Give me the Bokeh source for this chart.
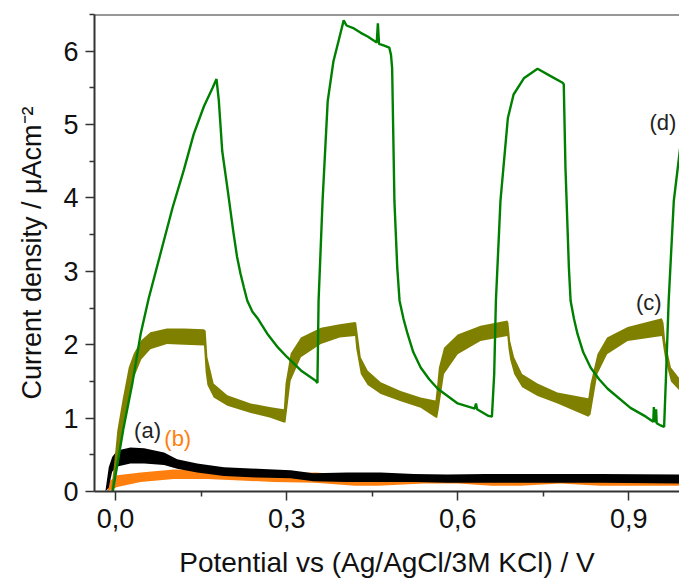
from bokeh.plotting import figure
from bokeh.models import (FixedTicker, Span, Label, Range1d, CustomJSTickFormatter)
from bokeh.embed import file_html
from bokeh.resources import INLINE

# ---------------- data ----------------
# (a) black band
a_x = [-0.018, -0.012, -0.006, 0.003, 0.026, 0.050, 0.085, 0.108, 0.143, 0.190, 0.249,
       0.307, 0.347, 0.406, 0.465, 0.523, 0.582, 0.650, 0.750, 0.850, 0.992]
a_hi = [0.00, 0.33, 0.47, 0.56, 0.60, 0.59, 0.53, 0.44, 0.38, 0.33, 0.31,
        0.29, 0.25, 0.26, 0.26, 0.24, 0.23, 0.24, 0.24, 0.24, 0.23]
a_lo = [0.00, 0.05, 0.27, 0.34, 0.38, 0.38, 0.36, 0.31, 0.26, 0.21, 0.19,
        0.18, 0.14, 0.13, 0.13, 0.13, 0.12, 0.12, 0.12, 0.12, 0.11]

# (b) orange band
b_x = [-0.015, -0.009, 0.003, 0.044, 0.102, 0.161, 0.219, 0.277, 0.350, 0.420, 0.460,
       0.540, 0.600, 0.660, 0.710, 0.780, 0.850, 0.992]
b_hi = [0.00, 0.15, 0.22, 0.26, 0.30, 0.29, 0.26, 0.24, 0.26, 0.22, 0.20,
        0.20, 0.22, 0.18, 0.18, 0.24, 0.22, 0.20]
b_lo = [0.00, 0.02, 0.06, 0.13, 0.17, 0.17, 0.15, 0.13, 0.12, 0.08, 0.08,
        0.11, 0.11, 0.08, 0.08, 0.11, 0.08, 0.08]

# (c) olive band
c_x = [-0.008, -0.003, 0.003, 0.012, 0.023, 0.032, 0.045, 0.061, 0.090, 0.120, 0.155,
       0.158, 0.161, 0.172, 0.196, 0.237, 0.270, 0.295,
       0.298, 0.307, 0.325, 0.360, 0.393, 0.420,
       0.422, 0.430, 0.442, 0.465, 0.500, 0.535, 0.561,
       0.564, 0.567, 0.576, 0.600, 0.640, 0.687,
       0.689, 0.692, 0.699, 0.713, 0.740, 0.775, 0.829,
       0.833, 0.845, 0.862, 0.898, 0.958,
       0.961, 0.964, 0.974, 0.992]
c_hi = [0.00, 0.35, 0.83, 1.24, 1.69, 1.88, 2.06, 2.17, 2.22, 2.22, 2.21,
        2.19, 1.83, 1.47, 1.31, 1.20, 1.15, 1.12,
        1.47, 1.88, 2.10, 2.23, 2.28, 2.31,
        2.30, 1.83, 1.65, 1.49, 1.37, 1.28, 1.24,
        1.45, 1.69, 1.96, 2.14, 2.26, 2.33,
        2.30, 2.05, 1.83, 1.60, 1.47, 1.35, 1.27,
        1.47, 1.87, 2.10, 2.24, 2.36,
        2.30, 2.05, 1.69, 1.51]
c_lo = [0.00, 0.05, 0.30, 0.75, 1.20, 1.55, 1.80, 1.94, 2.01, 2.00, 1.99,
        1.62, 1.45, 1.28, 1.17, 1.07, 1.01, 0.94,
        0.94, 1.51, 1.83, 2.01, 2.10, 2.12,
        1.95, 1.60, 1.45, 1.33, 1.23, 1.14, 1.01,
        1.00, 1.13, 1.60, 1.87, 2.05, 2.12,
        1.95, 1.80, 1.60, 1.42, 1.30, 1.20, 1.02,
        1.05, 1.60, 1.87, 2.05, 2.12,
        1.95, 1.80, 1.50, 1.35]

# (d) green line
d_x = [-0.005, 0.014, 0.030, 0.044, 0.058, 0.080, 0.100, 0.120, 0.137, 0.155, 0.170, 0.177,
       0.181, 0.187, 0.196, 0.207, 0.213, 0.219, 0.225, 0.231, 0.240, 0.250, 0.266, 0.285,
       0.301, 0.325, 0.351,
       0.354, 0.356, 0.363, 0.372, 0.382, 0.393, 0.400, 0.405, 0.418, 0.430, 0.442, 0.458,
       0.460, 0.462, 0.470, 0.480, 0.483, 0.485, 0.487, 0.489, 0.494, 0.498, 0.505, 0.512,
       0.522, 0.535, 0.550, 0.565, 0.600, 0.630, 0.632, 0.634, 0.654, 0.660, 0.664, 0.667,
       0.675, 0.688, 0.698, 0.716, 0.740, 0.763, 0.784, 0.786, 0.789, 0.795, 0.798, 0.804,
       0.810, 0.820, 0.833, 0.848, 0.863, 0.903,
       0.930, 0.943, 0.944, 0.946, 0.948, 0.949, 0.956, 0.962, 0.965, 0.970, 0.979, 0.992]
d_y = [0.00, 0.87, 1.50, 2.15, 2.63, 3.28, 3.87, 4.39, 4.87, 5.25, 5.50, 5.62,
       5.33, 4.64, 4.14, 3.51, 3.20, 2.97, 2.78, 2.60, 2.45, 2.35, 2.15, 1.96,
       1.83, 1.65, 1.51,
       1.48, 2.60, 3.96, 5.32, 5.86, 6.20, 6.42, 6.35, 6.31, 6.25, 6.20, 6.12,
       6.38, 6.10, 6.08, 6.05, 5.95, 5.77, 4.87, 3.96, 3.05, 2.60, 2.35, 2.15,
       1.90, 1.69, 1.53, 1.40, 1.20, 1.13, 1.20, 1.12, 1.03, 1.02, 1.60, 2.60,
       3.96, 5.09, 5.41, 5.63, 5.76, 5.66, 5.57, 5.55, 4.41, 3.05, 2.60, 2.35,
       2.15, 1.90, 1.69, 1.53, 1.40, 1.14,
       1.02, 0.95, 1.15, 0.94, 1.12, 0.93, 0.90, 0.88, 1.50, 2.60, 3.96, 4.80]

x_ticks = [0.0, 0.3, 0.6, 0.9]
x_minor = [0.15, 0.45, 0.75]
y_ticks = [0, 1, 2, 3, 4, 5, 6]
y_minor = [0.5, 1.5, 2.5, 3.5, 4.5, 5.5, 6.5]

labels = [("(a)", 0.056, 0.83, "#222222"),
          ("(b)", 0.109, 0.72, "#FF7F0E"),
          ("(c)", 0.935, 2.58, "#222222"),
          ("(d)", 0.960, 5.03, "#222222")]

# ---------------- figure ----------------
FONT = "Liberation Sans"
p = figure(width=679, height=582, output_backend="svg", toolbar_location=None,
           x_range=Range1d(-0.037, 0.989), y_range=Range1d(0, 6.5),
           min_border_left=94, min_border_right=0, min_border_top=14, min_border_bottom=91)
p.outline_line_color = None
p.xgrid.visible = False
p.ygrid.visible = False
p.background_fill_color = "white"
p.border_fill_color = "white"

p.varea(x=b_x, y1=b_lo, y2=b_hi, fill_color="#FF7F0E")
p.varea(x=a_x, y1=a_lo, y2=a_hi, fill_color="#000000")
p.varea(x=c_x, y1=c_lo, y2=c_hi, fill_color="#808000")
p.line(d_x, d_y, line_color="#008000", line_width=2.4)

for txt, lx, ly, col in labels:
    p.add_layout(Label(x=lx, y=ly, text=txt, text_color=col, text_font=FONT,
                       text_font_size="22px", text_align="center", text_baseline="middle"))

p.add_layout(Span(location=6.5, dimension="width", line_color="#333333", line_width=2))

for ax in (p.xaxis[0], p.yaxis[0]):
    ax.axis_line_color = "#333333"
    ax.axis_line_width = 2
    ax.major_tick_line_color = "#333333"
    ax.minor_tick_line_color = "#333333"
    ax.major_tick_line_width = 1.5
    ax.minor_tick_line_width = 1.5
    ax.major_tick_in = 0
    ax.major_tick_out = 9
    ax.minor_tick_in = 0
    ax.minor_tick_out = 5
    ax.major_label_text_font = FONT
    ax.major_label_text_font_size = "27px"
    ax.major_label_text_color = "#111111"
    ax.axis_label_text_font = FONT
    ax.axis_label_text_font_style = "normal"
    ax.axis_label_text_color = "#111111"

p.xaxis.axis_label_text_font_size = "28px"
p.yaxis.axis_label_text_font_size = "27px"

p.xaxis.ticker = FixedTicker(ticks=x_ticks, minor_ticks=x_minor)
p.xaxis.formatter = CustomJSTickFormatter(code="return tick.toFixed(1).replace('.', ',');")
p.xaxis.major_label_standoff = 8
p.xaxis.axis_label = "Potential vs (Ag/AgCl/3M KCl) / V"
p.xaxis.axis_label_standoff = 16

p.yaxis.ticker = FixedTicker(ticks=y_ticks, minor_ticks=y_minor)
p.yaxis.major_label_standoff = 7
p.yaxis.axis_label = "Current density / \u03bcAcm\u207b\u00b2"
p.yaxis.axis_label_standoff = 13

open("out.html", "w").write(file_html(p, INLINE))
